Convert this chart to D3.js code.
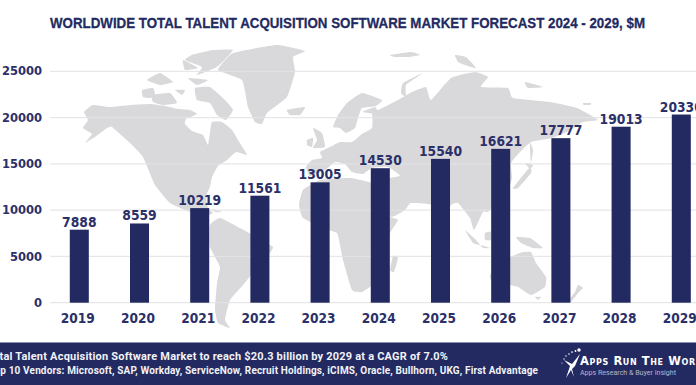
<!DOCTYPE html>
<html>
<head>
<meta charset="utf-8">
<script src="https://cdn.jsdelivr.net/npm/d3@7"></script>
<style>
  html, body { margin: 0; padding: 0; background: #fff; overflow: hidden; }
  svg { display: block; }
  .tick-label { font-family: "DejaVu Sans", sans-serif; font-weight: 700; fill: #2b3068; }
</style>
</head>
<body>
<div id="chart"></div>
<script>
// chart values
const years = ["2019", "2020", "2021", "2022", "2023", "2024", "2025", "2026", "2027", "2028", "2029"];
const revenue = [7888, 8559, 10219, 11561, 13005, 14530, 15540, 16621, 17777, 19013, 20330];
const yTicks = [0, 5000, 10000, 15000, 20000, 25000];

const titleText = "WORLDWIDE TOTAL TALENT ACQUISITION SOFTWARE MARKET FORECAST 2024 - 2029, $M";
const footerLines = [
    "Total Talent Acquisition Software Market to reach $20.3 billion by 2029 at a CAGR of 7.0%",
    "Top 10 Vendors: Microsoft, SAP, Workday, ServiceNow, Recruit Holdings, iCIMS, Oracle, Bullhorn, UKG, First Advantage"
];

// background map outlines (page pixels)
const northAmerica = [[84,112],[93,105],[110,107],[130,105],[150,104],[165,106],[178,109],[190,110],[197,114],[186,119],[185,124],[192,131],[203,135],[208,145],[210,132],[212,122],[222,122],[232,130],[238,140],[243,148],[247,155],[236,152],[227,160],[218,166],[212,177],[210,187],[206,196],[208,208],[213,213],[205,216],[190,212],[170,203],[155,185],[143,157],[130,143],[112,127],[107,128],[95,137],[85,143],[92,134],[83,128],[88,120]];
const arcticIslands = [
    [[142,90],[153,88],[155,95],[150,98],[143,97]],
    [[152,95],[170,93],[177,103],[163,105],[153,102]],
    [[195,88],[210,87],[225,100],[233,110],[226,120],[217,115],[210,103],[197,100]],
    [[192,55],[213,50],[233,50],[217,67],[197,75],[202,67],[185,60]],
    [[147,80],[160,73],[173,82],[160,85]],
    [[188,78],[208,80],[197,85]],
    [[183,60],[198,68],[185,70]],
    [[175,90],[185,90],[182,95]]
];
const greenland = [[218,70],[233,53],[277,45],[305,51],[293,57],[295,72],[287,97],[267,113],[262,124],[255,122],[248,107],[242,80]];
const southAmerica = [[210,225],[220,218],[240,228],[262,240],[273,247],[270,253],[253,273],[243,285],[230,300],[225,320],[230,328],[218,323],[215,310],[217,283],[220,267],[210,247]];
const eurasia = [[306,167],[312,160],[322,158],[320,152],[332,146],[340,142],[352,142],[362,134],[372,128],[372,114],[362,112],[375,107],[378,110],[398,100],[412,92],[426,87],[431,100],[451,78],[475,72],[488,77],[481,87],[508,88],[513,98],[550,102],[577,108],[598,120],[583,122],[567,132],[552,138],[531,142],[520,152],[511,163],[512,178],[508,190],[495,205],[488,212],[483,212],[474,230],[470,218],[458,203],[451,205],[442,225],[432,205],[411,203],[405,210],[391,217],[380,195],[380,180],[400,176],[388,167],[372,168],[363,174],[352,172],[345,164],[335,162],[325,170],[310,176]];
const africa = [[320,180],[303,190],[299,205],[303,218],[323,228],[337,233],[340,245],[343,260],[352,290],[362,292],[372,285],[383,265],[388,245],[390,233],[398,220],[388,216],[383,200],[375,184],[350,178]];
const scandinavia = [[333,127],[338,115],[347,103],[362,93],[382,100],[376,106],[362,108],[358,118],[355,128],[346,133],[340,128]];
const australia = [[490,275],[498,263],[515,255],[523,252],[531,252],[536,263],[546,277],[545,287],[531,295],[518,287],[501,283],[491,280]];
const smallIslands = [
    [[287,110],[305,107],[300,115],[290,115]],
    [[313,128],[322,133],[325,147],[313,148],[317,140]],
    [[307,140],[313,138],[312,147],[307,145]],
    [[393,256],[398,258],[394,272],[390,270]],
    [[535,297],[541,297],[538,300]],
    [[578,285],[583,288],[578,293],[571,302],[569,300],[575,292]],
    [[516,237],[530,238],[543,248],[533,248],[521,243]],
    [[485,233],[491,232],[491,240],[485,240]],
    [[465,230],[476,240],[480,245],[473,243]],
    [[481,245],[490,248],[483,248]],
    [[513,188],[530,167],[531,173],[518,188]],
    [[530,142],[533,150],[531,163],[530,150]],
    [[525,163],[533,165],[530,169]],
    [[423,73],[403,83],[401,93],[406,97],[406,85]],
    [[455,55],[466,57],[476,68],[465,65],[458,62]],
    [[390,55],[411,52],[420,55],[408,57],[395,57]],
    [[525,82],[543,87],[528,88]],
    [[583,103],[591,103],[590,105],[584,105]],
    [[212,209],[222,212],[215,212]]
];

const width = 696, height = 385;
const margin = { left: 49.2, right: -15.4, top: 71.3, bottom: 82.3 };
const navy = "#232a61";

const svg = d3.select("#chart")
    .append("svg")
    .attr("width", width)
    .attr("height", height);

// map
const landPath = d3.line().curve(d3.curveCardinalClosed.tension(0.6));
const landShapes = [northAmerica, greenland, southAmerica, eurasia, africa, scandinavia, australia]
    .concat(arcticIslands, smallIslands);
svg.append("g")
    .selectAll("path")
    .data(landShapes)
    .enter()
    .append("path")
    .attr("d", landPath)
    .attr("fill", "#d9d9dc");

// scales
const x = d3.scaleBand()
    .domain(years)
    .range([margin.left, width - margin.right])
    .paddingInner(0.684)
    .paddingOuter(0.342);
const y = d3.scaleLinear()
    .domain([0, 25000])
    .range([height - margin.bottom, margin.top]);

// y axis with gridlines
const yAxis = d3.axisLeft(y).tickValues(yTicks).tickSize(0).tickPadding(8).tickFormat(d3.format("d"));
svg.append("g")
    .attr("transform", "translate(" + 50 + ",0)")
    .call(yAxis)
    .call(g => g.select(".domain").remove())
    .call(g => g.selectAll("text")
        .attr("class", "tick-label")
        .style("font-size", "11.5px")
        .style("font-family", null));
svg.append("g")
    .selectAll("line")
    .data(yTicks)
    .enter()
    .append("line")
    .attr("x1", 50)
    .attr("x2", width)
    .attr("y1", d => y(d))
    .attr("y2", d => y(d))
    .attr("stroke", "#e3e3e6")
    .attr("stroke-opacity", 0.85)
    .attr("stroke-width", 1.2);

// x axis
const xAxis = d3.axisBottom(x).tickSize(0).tickPadding(11);
svg.append("g")
    .attr("transform", "translate(-1.5," + y(0) + ")")
    .call(xAxis)
    .call(g => g.select(".domain").remove())
    .call(g => g.selectAll("text")
        .attr("class", "tick-label")
        .attr("textLength", 34)
        .attr("lengthAdjust", "spacingAndGlyphs")
        .style("font-size", "13.5px")
        .style("font-family", null));

// bars
svg.selectAll(".bar")
    .data(revenue)
    .enter()
    .append("rect")
    .attr("class", "bar")
    .attr("x", (d, i) => x(years[i]))
    .attr("y", d => y(d))
    .attr("width", x.bandwidth())
    .attr("height", d => y(0) - y(d))
    .attr("fill", navy);

// value labels
svg.selectAll(".value")
    .data(revenue)
    .enter()
    .append("text")
    .attr("class", "value tick-label")
    .attr("x", (d, i) => x(years[i]) + x.bandwidth() / 2)
    .attr("y", d => y(d) - 3)
    .attr("text-anchor", "middle")
    .attr("textLength", d => String(d).length * 8.6)
    .attr("lengthAdjust", "spacingAndGlyphs")
    .style("font-size", "14px")
    .text(d => d);

// title
svg.append("text")
    .attr("x", 50)
    .attr("y", 28)
    .attr("textLength", 595)
    .attr("lengthAdjust", "spacingAndGlyphs")
    .style("font-family", "'Liberation Sans', sans-serif")
    .style("font-weight", 700)
    .style("font-size", "15.5px")
    .style("stroke", navy)
    .style("stroke-width", "0.3px")
    .attr("fill", navy)
    .text(titleText);

// footer band
svg.append("rect")
    .attr("x", 0)
    .attr("y", 342)
    .attr("width", width)
    .attr("height", height - 342)
    .attr("fill", navy);
svg.append("line")
    .attr("x1", 0).attr("x2", width)
    .attr("y1", 342.5).attr("y2", 342.5)
    .attr("stroke", "#8d90b0");

const footerX = [-13, -11];
const footerY = [360, 373.5];
const footerLength = [461, 549];
const footerSize = [11, 10];
svg.selectAll(".footer")
    .data(footerLines)
    .enter()
    .append("text")
    .attr("class", "footer")
    .attr("x", (d, i) => footerX[i])
    .attr("y", (d, i) => footerY[i])
    .attr("textLength", (d, i) => footerLength[i])
    .attr("lengthAdjust", "spacing")
    .style("font-family", "Roboto, sans-serif")
    .style("font-weight", 700)
    .style("font-size", (d, i) => footerSize[i] + "px")
    .attr("fill", "#f2f2f6")
    .text(d => d);

// logo
const logo = svg.append("g").attr("fill", "#fff");
logo.append("path")
    .attr("d", "M566 378 L570 366 L564 360 L572 364 L580 354 L575 366 L572 369 L574 377 L571 370 Z");
[[579,350],[575.5,351],[572,352],[569,354],[566,356],[564,359],[562,363]].forEach(function (p, i) {
    logo.append("circle")
        .attr("cx", p[0])
        .attr("cy", p[1])
        .attr("r", i == 0 ? 1.7 : 1 - i * 0.07);
});
logo.append("text")
    .attr("x", 580)
    .attr("y", 365)
    .style("font-family", "'DejaVu Sans', sans-serif")
    .style("font-weight", 700)
    .style("font-size", "11.5px")
    .style("font-variant", "small-caps")
    .style("letter-spacing", "0.6px")
    .text("Apps Run The World");
logo.append("text")
    .attr("x", 580)
    .attr("y", 375)
    .attr("textLength", 96)
    .attr("lengthAdjust", "spacingAndGlyphs")
    .style("font-family", "Roboto, sans-serif")
    .style("font-size", "8px")
    .attr("fill", "#b5b7cc")
    .text("Apps Research & Buyer Insight");
</script>
</body>
</html>
